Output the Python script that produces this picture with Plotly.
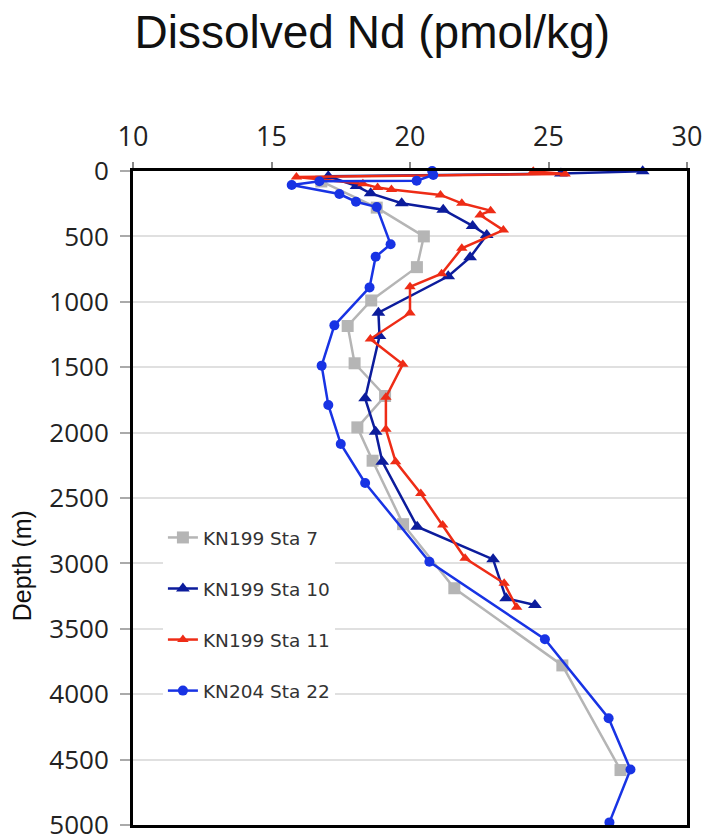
import plotly.graph_objects as go

# Dissolved Nd profiles (pmol/kg) against depth (m)
sta7_nd = [16.8, 18.8, 20.5, 20.25, 18.6, 17.75, 18.0, 19.1, 18.1, 18.65, 19.75, 21.6, 25.5, 27.6]
sta7_depth = [80, 280, 500, 735, 990, 1185, 1470, 1720, 1960, 2215, 2700, 3190, 3780, 4580]

sta10_nd = [28.4, 25.45, 17.05, 18.07, 18.58, 19.7, 21.2, 22.26, 22.77, 22.17, 21.38,
            18.86, 18.9, 18.38, 18.76, 19.0, 20.26, 23.0, 23.47, 24.51]
sta10_depth = [2, 20, 40, 115, 171, 247, 296, 420, 489, 660, 805,
               1083, 1262, 1738, 1993, 2222, 2719, 2969, 3267, 3318]

sta11_nd = [24.45, 25.6, 15.9, 18.3, 18.83, 19.33, 21.1, 21.87, 22.91, 22.53, 23.37, 21.87,
            21.14, 20.0, 20.0, 18.57, 19.74, 19.13, 19.13, 19.48, 20.39, 21.18, 21.99, 23.4, 23.85]
sta11_depth = [2, 23, 45, 97, 127, 142, 183, 247, 303, 336, 452, 591,
               785, 885, 1085, 1285, 1478, 1730, 1975, 2222, 2466, 2706, 2961, 3152, 3336]

sta22_nd = [20.8, 20.84, 20.24, 16.73, 15.73, 17.45, 18.05, 18.8, 19.3, 18.76, 18.54,
            17.27, 16.81, 17.05, 17.5, 18.38, 20.7, 24.87, 27.17, 27.96, 27.2]
sta22_depth = [0, 30, 74, 78, 107, 176, 235, 275, 560, 656, 890,
               1180, 1488, 1789, 2087, 2385, 2987, 3580, 4184, 4576, 4980]

series = [
    ("KN199 Sta 7", sta7_nd, sta7_depth, "#b5b5b5", "square", 12),
    ("KN199 Sta 10", sta10_nd, sta10_depth, "#0c1c9c", "triangle-up", 12),
    ("KN199 Sta 11", sta11_nd, sta11_depth, "#ee2c16", "triangle-up", 10),
    ("KN204 Sta 22", sta22_nd, sta22_depth, "#1833e4", "circle", 10),
]

x_ticks = [10, 15, 20, 25, 30]
y_ticks = list(range(0, 5001, 500))

fig = go.Figure()
for i, (name, nd, depth, color, symbol, size) in enumerate(series):
    fig.add_trace(go.Scatter(
        x=nd, y=depth, name=name, mode="lines+markers",
        line=dict(color=color, width=2.5),
        marker=dict(color=color, symbol=symbol, size=size),
        legendgroup=f"g{i}",
        cliponaxis=False,
    ))

font_ticks = "Open Sans, DejaVu Sans, sans-serif"
font_legend = "DejaVu Sans, sans-serif"
font_title = "Liberation Sans, Arial, sans-serif"

fig.update_layout(
    width=709, height=837,
    margin=dict(l=133, r=22, t=171, b=12, autoexpand=False),
    paper_bgcolor="white", plot_bgcolor="white",
    title=dict(text="Dissolved Nd (pmol/kg)", x=0.525, xanchor="center",
               y=0.9615, yanchor="middle",
               font=dict(family=font_title, size=46, color="#111111")),
    legend=dict(x=0.054, y=0.468, xanchor="left", yanchor="top",
                bgcolor="white", borderwidth=0,
                font=dict(family=font_legend, size=18.5, color="#333333"),
                tracegroupgap=24, traceorder="grouped", itemwidth=30),
    showlegend=True,
)

fig.update_xaxes(
    side="top", range=[10, 30], tickvals=x_ticks, automargin=False,
    ticks="outside", ticklen=6, tickwidth=1.5, tickcolor="#888888",
    ticklabelstandoff=5,
    showline=True, linewidth=3, linecolor="black", mirror=True,
    showgrid=False, zeroline=False,
    tickfont=dict(family=font_ticks, size=27, color="#222222"),
)
fig.update_yaxes(
    range=[5000, 0], tickvals=y_ticks, automargin=False,
    ticks="outside", ticklen=10, tickwidth=1.5, tickcolor="#aaaaaa",
    ticklabelstandoff=6, ticklabeloverflow="allow",
    showline=True, linewidth=3, linecolor="black", mirror=True,
    showgrid=True, gridcolor="#e0e0e0", gridwidth=2, zeroline=False,
    tickfont=dict(family=font_ticks, size=26, color="#222222"),
)

fig.add_annotation(
    text="Depth (m)", xref="paper", yref="paper", x=-0.2, y=0.396,
    textangle=-90, showarrow=False, xanchor="center", yanchor="middle",
    font=dict(family=font_title, size=25, color="#111111"),
)

fig.write_html("out.html")
